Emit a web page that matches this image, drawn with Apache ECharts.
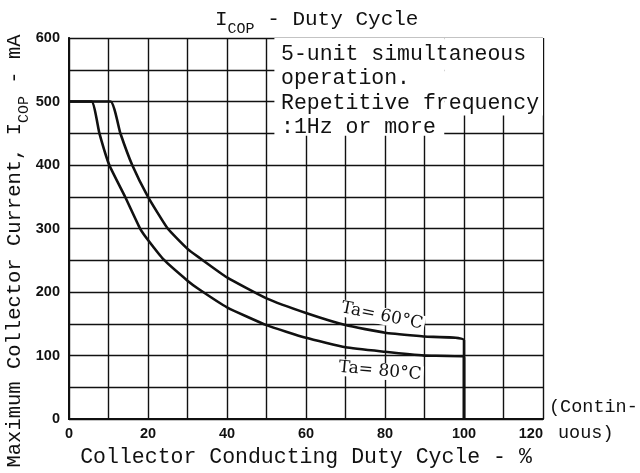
<!DOCTYPE html>
<html>
<head>
<meta charset="utf-8">
<script src="https://cdn.jsdelivr.net/npm/echarts@6/dist/echarts.min.js"></script>
<style>
  html, body { margin: 0; padding: 0; background: #fff; }
  #chart { width: 640px; height: 473px; }
</style>
</head>
<body>
<div id="chart"></div>
<script>
// tick labels
const xTicks = [0, 20, 40, 60, 80, 100, 120];
const yTicks = [0, 100, 200, 300, 400, 500, 600];

// Ta = 60°C curve
const duty60 = [0, 10.5, 13, 16, 20, 25, 30, 33, 40, 50, 60, 70, 80, 90, 100, 100];
const cur60 = [500, 500, 450, 400, 350, 300, 268, 254, 223, 190, 167, 148, 136, 130, 124, 0];

// Ta = 80°C curve
const duty80 = [0, 5.7, 7.7, 10.2, 14.2, 18, 20, 24, 30, 33, 40, 50, 60, 70, 80, 90, 100, 100];
const cur80 = [500, 500, 450, 400, 350, 300, 282, 251, 218, 204, 176, 148, 128, 113, 106, 100, 97, 0];

const noteLines = ['5-unit simultaneous', 'operation.', 'Repetitive frequency', ':1Hz or more'];

const pair = (xs, ys) => xs.map((x, i) => [x, ys[i]]);
const mono = '"Liberation Mono", "DejaVu Sans Mono", monospace';
const black = '#111';

const chart = echarts.init(document.getElementById('chart'));

const gridLine = { show: true, lineStyle: { color: black, width: 1.4, type: 'solid' } };

// main text sits at the top of the line, subscript at the bottom
const subRich = (big, small, color) => ({
  n: { fontFamily: mono, fontSize: big, color: color, fill: color, fontWeight: 'normal', lineHeight: big + 7, verticalAlign: 'top' },
  s: { fontFamily: mono, fontSize: small, color: color, fill: color, fontWeight: 'normal', lineHeight: big + 7, verticalAlign: 'bottom' }
});

const option = {
  backgroundColor: '#fff',
  animation: false,
  title: {
    text: '{n|I}{s|COP}{n| - Duty Cycle}',
    left: 210,
    top: 4,
    textStyle: { fontWeight: 'normal', rich: subRich(21, 15, black) }
  },
  grid: { left: 69, right: 97, top: 38, bottom: 53 },
  xAxis: [{
    type: 'value',
    min: xTicks[0],
    max: xTicks[xTicks.length - 1],
    interval: xTicks[1] - xTicks[0],
    name: 'Collector Conducting Duty Cycle - %',
    nameLocation: 'middle',
    nameGap: 26,
    nameTextStyle: { fontFamily: mono, fontSize: 21.5, color: black },
    axisLine: { show: true, lineStyle: { color: black, width: 2 } },
    axisTick: { show: false },
    axisLabel: {
      fontFamily: 'Liberation Sans', fontWeight: 'bold', fontSize: 14.5, color: black, margin: 7,
      alignMaxLabel: 'right'
    },
    splitLine: gridLine,
    minorTick: { show: false, splitNumber: 2 },
    minorSplitLine: gridLine
  }, {
    type: 'value',
    position: 'top',
    min: xTicks[0],
    max: xTicks[xTicks.length - 1],
    z: 5,
    axisLine: { show: true, lineStyle: { color: black, width: 1.6 } },
    axisTick: { show: false },
    axisLabel: { show: false },
    splitLine: { show: false }
  }],
  yAxis: [{
    type: 'value',
    min: yTicks[0],
    max: yTicks[yTicks.length - 1],
    interval: yTicks[1] - yTicks[0],
    axisLine: { show: true, lineStyle: { color: black, width: 2 } },
    axisTick: { show: false },
    axisLabel: { fontFamily: 'Liberation Sans', fontWeight: 'bold', fontSize: 14.5, color: black, margin: 9 },
    splitLine: gridLine,
    minorTick: { show: false, splitNumber: 2 },
    minorSplitLine: gridLine
  }, {
    type: 'value',
    position: 'right',
    min: yTicks[0],
    max: yTicks[yTicks.length - 1],
    z: 5,
    axisLine: { show: true, lineStyle: { color: black, width: 1.6 } },
    axisTick: { show: false },
    axisLabel: { show: false },
    splitLine: { show: false }
  }],
  series: [{
    name: 'Ta=60°C',
    type: 'line',
    data: pair(duty60, cur60),
    smooth: 0.15,
    symbol: 'none',
    lineStyle: { color: black, width: 2.6 },
    // white box behind the note text
    markArea: {
      silent: true,
      itemStyle: { color: '#fff', opacity: 1 },
      data: [
        [{ coord: [52, 600] }, { coord: [95, 446] }],
        [{ coord: [95, 600] }, { coord: [120, 478] }]
      ]
    }
  }, {
    name: 'Ta=80°C',
    type: 'line',
    data: pair(duty80, cur80),
    smooth: 0.15,
    symbol: 'none',
    lineStyle: { color: black, width: 2.6 }
  }],
  graphic: [{
    type: 'text',
    left: 281,
    top: 42,
    z: 10,
    style: {
      text: noteLines.join('\n'),
      font: '21.5px ' + mono,
      fill: black,
      lineHeight: 24.5
    }
  }, {
    type: 'text',
    x: 18,
    y: 251,
    rotation: Math.PI / 2,
    z: 10,
    style: {
      text: '{n|Maximum Collector Current, I}{s|COP}{n| - mA}',
      align: 'center',
      verticalAlign: 'middle',
      rich: subRich(20.5, 15, black)
    }
  }, {
    type: 'text',
    left: 549,
    top: 398,
    z: 10,
    style: { text: '(Contin-', font: '18.5px ' + mono, fill: black }
  }, {
    type: 'text',
    left: 558,
    top: 424,
    z: 10,
    style: { text: 'uous)', font: '18.5px ' + mono, fill: black }
  }, {
    type: 'text',
    x: 382,
    y: 316,
    rotation: -0.2,
    z: 10,
    style: {
      text: 'Ta= 60°C',
      font: '17px "DejaVu Serif", serif',
      fill: black,
      align: 'center',
      verticalAlign: 'middle',
      backgroundColor: '#fff',
      padding: [0, 2]
    }
  }, {
    type: 'text',
    x: 380,
    y: 371,
    rotation: -0.09,
    z: 10,
    style: {
      text: 'Ta= 80°C',
      font: '17px "DejaVu Serif", serif',
      fill: black,
      align: 'center',
      verticalAlign: 'middle',
      backgroundColor: '#fff',
      padding: [0, 2]
    }
  }]
};

chart.setOption(option);
</script>
</body>
</html>
